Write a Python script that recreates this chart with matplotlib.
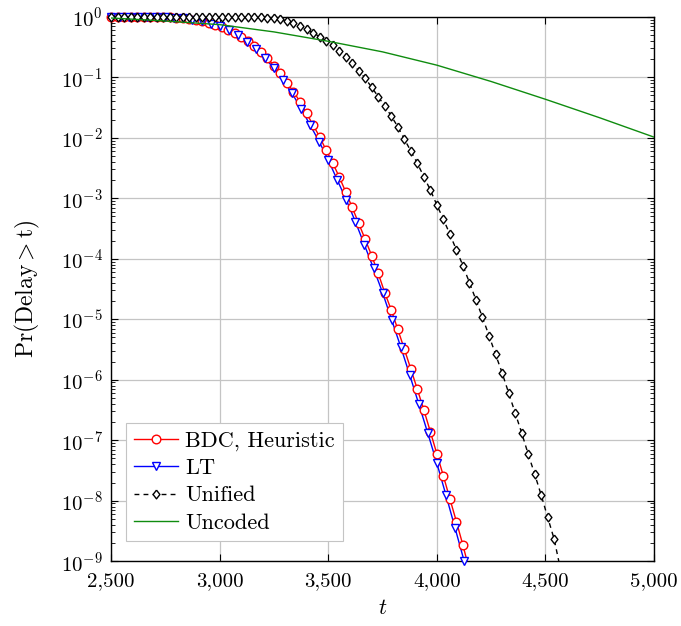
import numpy as np
import matplotlib
matplotlib.use('Agg')
import matplotlib.pyplot as plt
from matplotlib.lines import Line2D
from matplotlib.ticker import FuncFormatter, LogLocator, NullFormatter

plt.rcParams['font.family'] = 'serif'
plt.rcParams['font.serif'] = ['cmr10', 'DejaVu Serif']
plt.rcParams['mathtext.fontset'] = 'cm'
plt.rcParams['axes.formatter.use_mathtext'] = True

# BDC, Heuristic: t = 2500, 2530, ... (log10 of Pr)
t_bdc = np.arange(2500, 4151, 30)
log_bdc = [0.0, 0.0, 0.0, 0.0, 0.0, -0.001, -0.001, -0.002, -0.004, -0.007,
           -0.012, -0.020, -0.031, -0.047, -0.068, -0.095, -0.130, -0.174, -0.218, -0.270,
           -0.329, -0.395, -0.478, -0.577, -0.686, -0.808, -0.934, -1.089, -1.238, -1.403,
           -1.595, -1.788, -1.982, -2.202, -2.412, -2.643, -2.891, -3.149, -3.413, -3.678,
           -3.949, -4.240, -4.560, -4.846, -5.165, -5.491, -5.821, -6.157, -6.499, -6.858,
           -7.226, -7.590, -7.970, -8.345, -8.736, -9.150]

# LT: 40 points, 2500 .. 4125
t_lt = np.linspace(2500, 4125, 40)
log_lt = [0.0, 0.0, 0.0, 0.0, -0.001, -0.003, -0.007, -0.015, -0.028, -0.048,
          -0.075, -0.112, -0.155, -0.218, -0.305, -0.410, -0.530, -0.680, -0.851, -1.045,
          -1.264, -1.520, -1.790, -2.064, -2.367, -2.698, -3.029, -3.387, -3.772, -4.157,
          -4.560, -5.008, -5.453, -5.921, -6.400, -6.884, -7.380, -7.904, -8.445, -8.990]

# Unified: t = 2500, 2530, ...
t_uni = np.arange(2500, 4571, 30)
log_uni = [0.0] * 21 + [
    -0.001, -0.003, -0.007, -0.014, -0.026, -0.044, -0.071, -0.107, -0.152,
    -0.207, -0.263, -0.329, -0.395, -0.466, -0.560, -0.660, -0.769, -0.891, -1.017,
    -1.165, -1.321, -1.474, -1.640, -1.817, -2.020, -2.218, -2.421, -2.643, -2.863,
    -3.111, -3.347, -3.595, -3.855, -4.114, -4.395, -4.681, -4.970, -5.271, -5.579,
    -5.883, -6.213, -6.544, -6.874, -7.226, -7.557, -7.904, -8.273, -8.636, -9.150]

# Uncoded
t_unc = [2500, 2750, 3000, 3250, 3500, 3750, 4000, 4250, 4500, 4750, 5000]
log_unc = [-0.02, -0.07, -0.13, -0.25, -0.405, -0.58, -0.80, -1.07, -1.364, -1.67, -1.99]

xticks = [2500, 3000, 3500, 4000, 4500, 5000]

green = '#0f8c0f'
diamond = [(0, 1), (0.78, 0), (0, -1), (-0.78, 0), (0, 1)]
series = [
    (t_bdc, log_bdc, 'red', 'o', '-', 6.2, 'BDC, Heuristic'),
    (t_lt, log_lt, 'blue', 'v', '-', 6.0, 'LT'),
    (t_uni, log_uni, 'black', diamond, (0, (3.5, 3)), 6.3, 'Unified'),
]

fig = plt.figure(figsize=(6.81, 6.26), dpi=100)
ax = fig.add_axes([0.163, 0.1035, 0.7975, 0.8697])

handles = []
for t, lg, col, mk, ls, ms, lab in series:
    t = np.asarray(t, float)
    y = 10.0 ** np.asarray(lg)
    ax.plot(t, y, color=col, lw=1.0, linestyle=ls, zorder=3)
    inside = y >= 0.99e-9
    ax.plot(t[inside], y[inside], linestyle='none', marker=mk, ms=ms,
            mfc='white', mec=col, mew=1.0, clip_on=False, zorder=4)
    handles.append(Line2D([], [], color=col, lw=1.0, linestyle=ls, marker=mk,
                          ms=ms, mfc='white', mec=col, mew=1.0))

ax.plot(t_unc, 10.0 ** np.asarray(log_unc), color=green, lw=1.0, zorder=5)
handles.append(Line2D([], [], color=green, lw=1.0))

ax.set_yscale('log')
ax.set_xlim(2500, 5000)
ax.set_ylim(1e-9, 1)
ax.set_xticks(xticks)
ax.xaxis.set_major_formatter(FuncFormatter(lambda v, p: '{:,}'.format(int(v))))
ax.yaxis.set_major_locator(LogLocator(base=10, numticks=20))
ax.yaxis.set_minor_locator(LogLocator(base=10, subs=np.arange(2, 10), numticks=20))
ax.yaxis.set_minor_formatter(NullFormatter())

ax.grid(True, which='major', color='#c4c4c4', lw=0.9)
ax.tick_params(which='both', direction='in', top=True, right=True, labelsize=15)
ax.tick_params(which='major', length=5, width=0.8)
ax.tick_params(which='minor', length=3, width=0.6)
ax.tick_params(axis='x', pad=8)
ax.tick_params(axis='y', pad=6)
for s in ax.spines.values():
    s.set_linewidth(1.0)

ax.set_xlabel(r'$t$', fontsize=16, labelpad=6)
ax.set_ylabel(r'$\mathrm{Pr(Delay} > \mathrm{t)}$', fontsize=17, labelpad=13)

leg = ax.legend(handles, ['BDC, Heuristic', 'LT', 'Unified', 'Uncoded'],
                loc='lower left', bbox_to_anchor=(0.028, 0.038), fontsize=16,
                fancybox=False, framealpha=1, edgecolor='#c4c4c4',
                handlelength=2.0, handletextpad=0.3, labelspacing=0.35,
                borderpad=0.35, borderaxespad=0.0)
leg.get_frame().set_linewidth(0.8)

fig.savefig('out.png', dpi=100)
